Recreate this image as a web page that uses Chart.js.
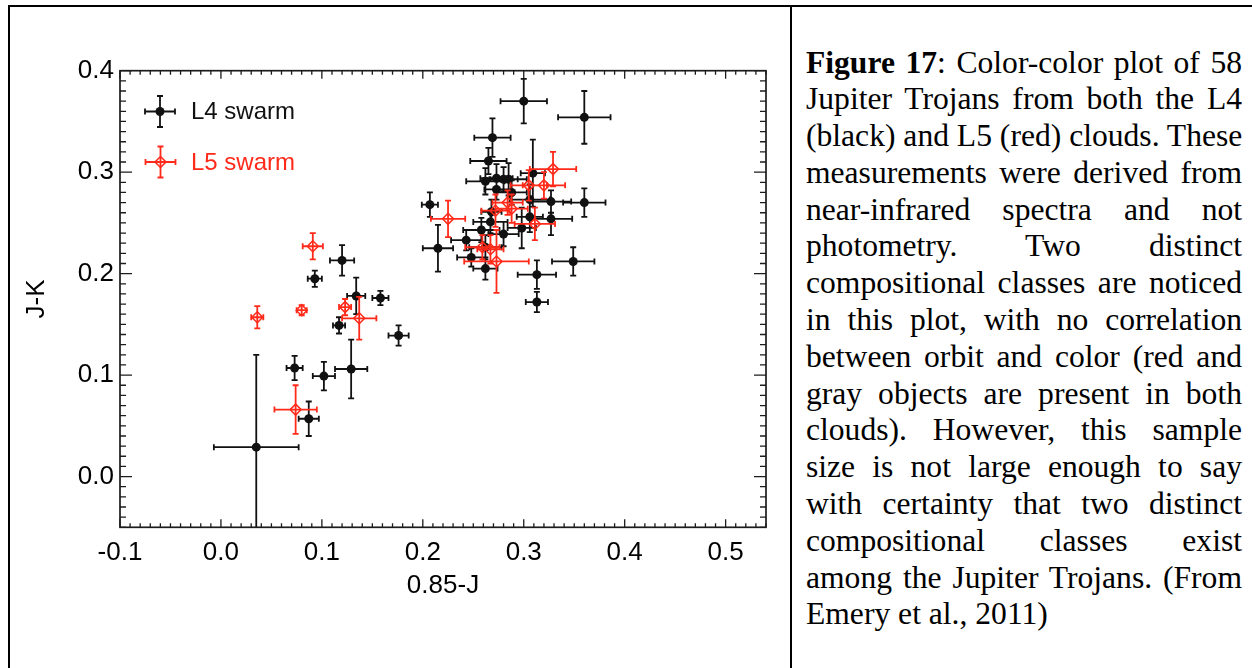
<!DOCTYPE html>
<html>
<head>
<meta charset="utf-8">
<script src="https://cdn.jsdelivr.net/npm/chart.js@4.4.0/dist/chart.umd.min.js"></script>
<style>
  html, body { margin: 0; padding: 0; background: #fff; }
  body { width: 1252px; height: 668px; position: relative; overflow: hidden; }
  #plot { position: absolute; left: 0; top: 0; width: 790px; height: 668px; }
  .rule { position: absolute; background: #000; }
  #caption {
    position: absolute; left: 806px; top: 44.5px; width: 436px;
    font-family: "Liberation Serif", "Times New Roman", serif;
    font-size: 31.6px; line-height: 36.8px; color: #000;
  }
  #caption div { white-space: nowrap; text-align: justify; text-align-last: justify; }
  #caption div.last { text-align-last: left; }
</style>
</head>
<body>
<div id="plot"><canvas id="c" width="790" height="668"></canvas></div>
<div class="rule" style="left:8px;top:5px;width:1244px;height:2px"></div>
<div class="rule" style="left:8px;top:5px;width:2px;height:663px"></div>
<div class="rule" style="left:790px;top:5px;width:2px;height:663px"></div>
<div id="caption">
  <div><b>Figure 17</b>: Color-color plot of 58</div>
  <div>Jupiter Trojans from both the L4</div>
  <div>(black) and L5 (red) clouds. These</div>
  <div>measurements were derived from</div>
  <div>near-infrared spectra and not</div>
  <div>photometry. Two distinct</div>
  <div>compositional classes are noticed</div>
  <div>in this plot, with no correlation</div>
  <div>between orbit and color (red and</div>
  <div>gray objects are present in both</div>
  <div>clouds). However, this sample</div>
  <div>size is not large enough to say</div>
  <div>with certainty that two distinct</div>
  <div>compositional classes exist</div>
  <div>among the Jupiter Trojans. (From</div>
  <div class="last">Emery et al., 2011)</div>
</div>
<script>
// L4 swarm: 0.85-J colour, J-K colour and their 1-sigma uncertainties
const l4X    = [0.035, 0.073, 0.087, 0.102, 0.129, 0.117, 0.134, 0.158, 0.176, 0.093, 0.120,
                0.300, 0.360, 0.269, 0.265, 0.360, 0.207, 0.215, 0.349, 0.313, 0.313, 0.309,
                0.327, 0.327, 0.262, 0.273, 0.280, 0.285, 0.273, 0.288, 0.306, 0.306, 0.298,
                0.280, 0.267, 0.268, 0.258, 0.243, 0.248, 0.262, 0.262];
const l4Y    = [0.029, 0.107, 0.057, 0.099, 0.106, 0.149, 0.178, 0.176, 0.139, 0.195, 0.213,
                0.370, 0.354, 0.334, 0.311, 0.270, 0.268, 0.225, 0.212, 0.199, 0.172, 0.299,
                0.271, 0.254, 0.291, 0.294, 0.293, 0.293, 0.283, 0.280, 0.273, 0.256, 0.245,
                0.239, 0.251, 0.261, 0.243, 0.233, 0.216, 0.205, 0.226];
const l4XErr = [0.042, 0.008, 0.010, 0.011, 0.016, 0.006, 0.009, 0.008, 0.010, 0.007, 0.012,
                0.023, 0.026, 0.018, 0.018, 0.021, 0.008, 0.015, 0.021, 0.019, 0.011, 0.012,
                0.020, 0.021, 0.019, 0.016, 0.014, 0.018, 0.012, 0.015, 0.020, 0.013, 0.014,
                0.015, 0.017, 0.010, 0.018, 0.015, 0.014, 0.012, 0.016];
const l4YErr = [0.091, 0.012, 0.017, 0.014, 0.029, 0.008, 0.018, 0.007, 0.010, 0.008, 0.015,
                0.022, 0.026, 0.019, 0.013, 0.014, 0.012, 0.023, 0.014, 0.014, 0.010, 0.033,
                0.011, 0.016, 0.013, 0.014, 0.012, 0.016, 0.010, 0.012, 0.015, 0.015, 0.020,
                0.012, 0.011, 0.012, 0.012, 0.010, 0.009, 0.011, 0.012];

// L5 swarm
const l5X    = [0.036, 0.080, 0.123, 0.137, 0.074, 0.091, 0.329, 0.305, 0.320, 0.225,
                0.284, 0.288, 0.272, 0.311, 0.259, 0.267, 0.273];
const l5Y    = [0.157, 0.164, 0.167, 0.156, 0.066, 0.227, 0.303, 0.287, 0.287, 0.254,
                0.270, 0.264, 0.262, 0.249, 0.226, 0.224, 0.212];
const l5XErr = [0.006, 0.005, 0.006, 0.017, 0.021, 0.010, 0.023, 0.018, 0.021, 0.017,
                0.015, 0.016, 0.014, 0.020, 0.017, 0.013, 0.032];
const l5YErr = [0.011, 0.005, 0.008, 0.021, 0.024, 0.013, 0.017, 0.015, 0.013, 0.018,
                0.012, 0.014, 0.016, 0.016, 0.012, 0.014, 0.031];

// axis tick labels
const xTickValues = [-0.1, 0.0, 0.1, 0.2, 0.3, 0.4, 0.5];
const yTickValues = [0.0, 0.1, 0.2, 0.3, 0.4];
const seriesNames = ['L4 swarm', 'L5 swarm'];

const BLACK = '#111111';
const RED = '#ff2a1a';
const SANS = '"Liberation Sans", Arial, Helvetica, sans-serif';

function toPoints(xs, ys, xe, ye) {
  return xs.map((x, i) => ({ x: x, y: ys[i], xErr: xe[i], yErr: ye[i] }));
}

// error bars with end caps, drawn just beneath each dataset's markers
const errorBars = {
  id: 'errorBars',
  beforeDatasetDraw(chart, args) {
    const ds = chart.data.datasets[args.index];
    const { ctx, chartArea: a, scales: { x, y } } = chart;
    const cap = 3;
    ctx.save();
    ctx.beginPath();
    ctx.rect(a.left, a.top, a.right - a.left, a.bottom - a.top);
    ctx.clip();
    ctx.strokeStyle = ds.borderColor;
    ctx.lineWidth = 1.8;
    ctx.beginPath();
    ds.data.forEach(p => {
      const cx = x.getPixelForValue(p.x), cy = y.getPixelForValue(p.y);
      const x0 = x.getPixelForValue(p.x - p.xErr), x1 = x.getPixelForValue(p.x + p.xErr);
      const y0 = y.getPixelForValue(p.y - p.yErr), y1 = y.getPixelForValue(p.y + p.yErr);
      ctx.moveTo(x0, cy); ctx.lineTo(x1, cy);
      ctx.moveTo(x0, cy - cap); ctx.lineTo(x0, cy + cap);
      ctx.moveTo(x1, cy - cap); ctx.lineTo(x1, cy + cap);
      ctx.moveTo(cx, y0); ctx.lineTo(cx, y1);
      ctx.moveTo(cx - cap, y0); ctx.lineTo(cx + cap, y0);
      ctx.moveTo(cx - cap, y1); ctx.lineTo(cx + cap, y1);
    });
    ctx.stroke();
    ctx.restore();
  }
};

// plot box with inward major/minor ticks on all four sides, plus the legend
const frameAndLegend = {
  id: 'frameAndLegend',
  afterDraw(chart) {
    const { ctx, chartArea: a, scales: { x, y } } = chart;
    ctx.save();
    ctx.strokeStyle = '#1c1c1c';
    ctx.lineWidth = 1.7;
    ctx.strokeRect(a.left, a.top, a.right - a.left, a.bottom - a.top);

    ctx.lineWidth = 1.3;
    ctx.beginPath();
    const xMinor = 0.01, yMinor = 0.01;
    for (let k = 0; ; k++) {
      const v = x.min + k * xMinor;
      if (v > x.max + 1e-9) break;
      const px = x.getPixelForValue(v);
      const major = Math.abs(v * 10 - Math.round(v * 10)) < 1e-6;
      const len = major ? 8 : 4;
      ctx.moveTo(px, a.bottom); ctx.lineTo(px, a.bottom - len);
      ctx.moveTo(px, a.top); ctx.lineTo(px, a.top + len);
    }
    for (let k = 0; ; k++) {
      const v = y.min + k * yMinor;
      if (v > y.max + 1e-9) break;
      const py = y.getPixelForValue(v);
      const major = Math.abs(v * 10 - Math.round(v * 10)) < 1e-6;
      const len = major ? 12 : 6;
      ctx.moveTo(a.left, py); ctx.lineTo(a.left + len, py);
      ctx.moveTo(a.right, py); ctx.lineTo(a.right - len, py);
    }
    ctx.stroke();

    // legend
    const entries = [
      { name: seriesNames[0], color: BLACK, cx: 160, cy: 111.5, filled: true },
      { name: seriesNames[1], color: RED, cx: 160.5, cy: 162, filled: false }
    ];
    entries.forEach(e => {
      ctx.strokeStyle = e.color;
      ctx.fillStyle = e.color;
      ctx.lineWidth = 1.8;
      ctx.beginPath();
      ctx.moveTo(e.cx - 15, e.cy); ctx.lineTo(e.cx + 15, e.cy);
      ctx.moveTo(e.cx - 15, e.cy - 3); ctx.lineTo(e.cx - 15, e.cy + 3);
      ctx.moveTo(e.cx + 15, e.cy - 3); ctx.lineTo(e.cx + 15, e.cy + 3);
      ctx.moveTo(e.cx, e.cy - 15.5); ctx.lineTo(e.cx, e.cy + 15.5);
      ctx.moveTo(e.cx - 3, e.cy - 15.5); ctx.lineTo(e.cx + 3, e.cy - 15.5);
      ctx.moveTo(e.cx - 3, e.cy + 15.5); ctx.lineTo(e.cx + 3, e.cy + 15.5);
      ctx.stroke();
      ctx.beginPath();
      if (e.filled) {
        ctx.arc(e.cx, e.cy, 4.5, 0, Math.PI * 2);
        ctx.fill();
      } else {
        ctx.lineWidth = 1.5;
        ctx.moveTo(e.cx, e.cy - 5.5); ctx.lineTo(e.cx + 5.5, e.cy);
        ctx.lineTo(e.cx, e.cy + 5.5); ctx.lineTo(e.cx - 5.5, e.cy); ctx.closePath();
        ctx.stroke();
      }
      ctx.font = '24px ' + SANS;
      ctx.textBaseline = 'middle';
      ctx.textAlign = 'left';
      ctx.fillText(e.name, 191, e.cy + 1);
    });
    ctx.restore();
  }
};

Chart.defaults.font.family = SANS;
Chart.defaults.color = '#000';

new Chart(document.getElementById('c'), {
  type: 'scatter',
  data: {
    datasets: [
      {
        label: seriesNames[0],
        data: toPoints(l4X, l4Y, l4XErr, l4YErr),
        order: 1,
        borderColor: BLACK,
        backgroundColor: BLACK,
        pointStyle: 'circle',
        pointRadius: 4.5,
        borderWidth: 0
      },
      {
        label: seriesNames[1],
        data: toPoints(l5X, l5Y, l5XErr, l5YErr),
        order: 0,
        borderColor: RED,
        backgroundColor: 'rgba(0,0,0,0)',
        pointStyle: 'rectRot',
        pointRadius: 5.5,
        borderWidth: 1.5
      }
    ]
  },
  options: {
    responsive: false,
    animation: false,
    events: [],
    layout: { padding: { top: 70.7, right: 24, bottom: 0, left: 0 } },
    plugins: { legend: { display: false }, tooltip: { enabled: false } },
    scales: {
      x: {
        type: 'linear',
        min: -0.1,
        max: 0.54,
        afterBuildTicks: s => { s.ticks = xTickValues.map(v => ({ value: v })); },
        afterFit: s => { s.height = 140.7; },
        grid: { display: false, drawTicks: false },
        border: { display: false },
        ticks: {
          font: { size: 26 },
          color: '#000',
          padding: 10,
          autoSkip: false,
          maxRotation: 0,
          callback: v => Number(v).toFixed(1)
        },
        title: {
          display: true,
          text: '0.85-J',
          font: { size: 26 },
          color: '#000',
          padding: { top: 0, bottom: 66.4 }
        }
      },
      y: {
        type: 'linear',
        min: -0.05,
        max: 0.4,
        afterBuildTicks: s => { s.ticks = yTickValues.map(v => ({ value: v })); },
        afterFit: s => { s.width = 120; },
        grid: { display: false, drawTicks: false },
        border: { display: false },
        ticks: {
          font: { size: 26 },
          color: '#000',
          padding: 6,
          autoSkip: false,
          callback: v => Number(v).toFixed(1)
        },
        title: {
          display: true,
          text: 'J-K',
          font: { size: 26 },
          color: '#000',
          padding: { top: 21.4, bottom: 0 }
        }
      }
    }
  },
  plugins: [errorBars, frameAndLegend]
});
</script>
</body>
</html>
